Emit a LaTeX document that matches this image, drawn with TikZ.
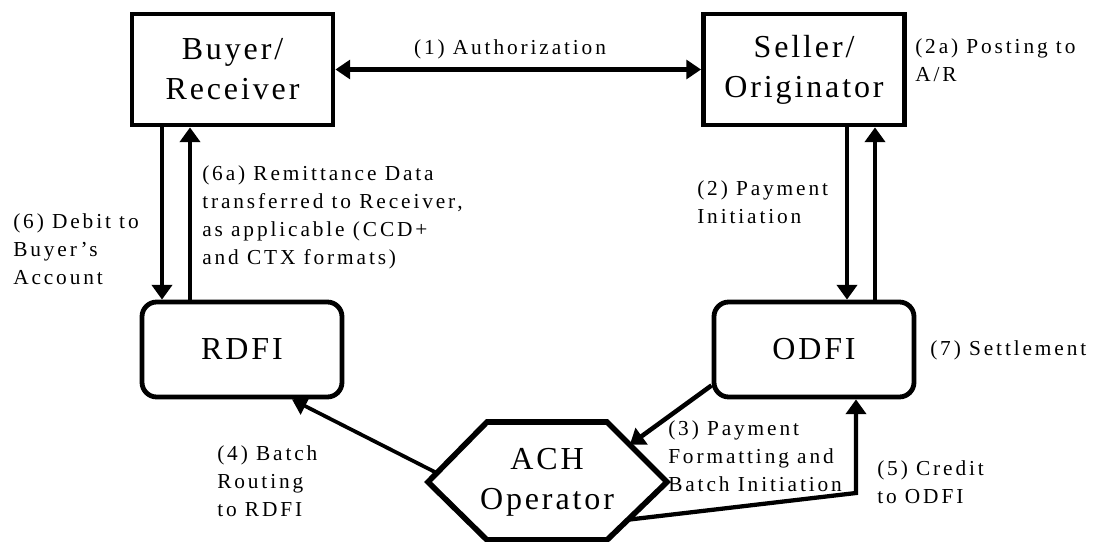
\documentclass[tikz,border=0pt]{standalone}
\usepackage{fontspec}
\setmainfont{Liberation Serif}
\newfontfamily\boxfam{Liberation Serif}[LetterSpace=9]
\newfontfamily\lblfam{Liberation Serif}[LetterSpace=13.5]
\usetikzlibrary{arrows.meta,calc}
\newcommand\boxfont{\boxfam\fontsize{24pt}{30pt}\selectfont}
\newcommand\lblfont{\lblfam\fontsize{16pt}{21pt}\selectfont}
\begin{document}
\begin{tikzpicture}[x=0.75pt,y=-0.75pt,
  party/.style={draw, line width=3.6pt, minimum width=150.75pt, minimum height=83.25pt, inner sep=0pt, font=\boxfont, align=center},
  bank/.style={draw, line width=3.6pt, rounded corners=11pt, minimum width=150pt, minimum height=71.25pt, inner sep=0pt, font=\boxfont},
  lbl/.style={font=\lblfont, align=left, inner sep=0pt, anchor=north west},
  arr/.style={line width=3.4pt, -{Triangle[length=11pt,width=15pt]}},
  thin/.style={line width=2.8pt}
]
\useasboundingbox (0,0) rectangle (1096,542);

% nodes
\node[party] (buyer) at (232.5,69.5) {Buyer/\\Receiver};
\node[party] (seller) at (804,69.5) {Seller/\\Originator};
\node[bank] (rdfi) at (242,349.5) {RDFI};
\node[bank] (odfi) at (814,349.5) {ODFI};

% hexagon
\coordinate (h1) at (428,482);
\coordinate (h2) at (487,422);
\coordinate (h3) at (607,422);
\coordinate (h4) at (667,482);
\coordinate (h5) at (607,540);
\coordinate (h6) at (487,540);
\draw[line width=4.2pt] (h1) -- (h2) -- (h3) -- (h4) -- (h5) -- (h6) -- cycle;
\node[font=\boxfont, align=center, inner sep=0pt] (ach) at (547,482) {ACH\\Operator};

% connectors
\draw[line width=3.2pt, {Triangle[length=11pt,width=14pt]}-{Triangle[length=11pt,width=14pt]}] (buyer.east) -- (seller.west);

\draw[arr] (162,0 |- buyer.south) -- (162,0 |- rdfi.north);
\draw[arr] (190,0 |- rdfi.north) -- (190,0 |- buyer.south);
\draw[arr] (847,0 |- seller.south) -- (847,0 |- odfi.north);
\draw[arr] (875,0 |- odfi.north) -- (875,0 |- seller.south);

\coordinate (o3) at ($(odfi.south west)+(0,-14)$);
\draw[arr] (o3) -- ($(h3)!0.38!(h4)$);

\draw[thin, -{Triangle[length=11pt,width=14pt]}] ($(h1)!0.15!(h2)$) -- ($(rdfi.south)+(50,0)$);

\coordinate (c5) at (856,493);
\draw[line width=3.2pt, -{Triangle[length=11pt,width=15pt]}] ($(h4)!0.65!(h5)$) -- (c5) -- (c5 |- odfi.south);

% labels
\node[font=\lblfont, inner sep=0pt] (l1) at (510,49) {(1) Authorization};
\node[lbl] (l2a) at (915,38) {(2a) Posting to\\A/R};
\node[lbl] (l2) at (697,180) {(2) Payment\\Initiation};
\node[lbl] (l6a) at (202,165) {(6a) Remittance Data\\transferred to Receiver,\\as applicable (CCD+\\and CTX formats)};
\node[lbl] (l6) at (13,213) {(6) Debit to\\Buyer’s\\Account};
\node[font=\lblfont, inner sep=0pt, anchor=west] (l7) at (930,350) {(7) Settlement};
\node[lbl] (l4) at (217,445) {(4) Batch\\Routing\\to RDFI};
\node[lbl] (l3) at (668,420) {(3) Payment\\Formatting and\\Batch Initiation};
\node[lbl] (l5) at (877,460) {(5) Credit\\to ODFI};
\end{tikzpicture}
\end{document}
